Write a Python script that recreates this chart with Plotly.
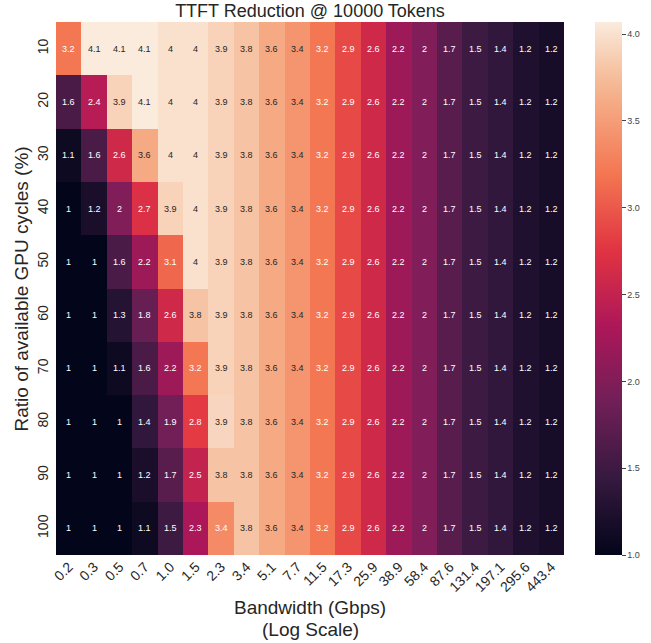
import plotly.graph_objects as go

bandwidth_labels = ["0.2", "0.3", "0.5", "0.7", "1.0", "1.5", "2.3", "3.4", "5.1", "7.7",
                    "11.5", "17.3", "25.9", "38.9", "58.4", "87.6", "131.4", "197.1", "295.6", "443.4"]
gpu_ratio_labels = ["10", "20", "30", "40", "50", "60", "70", "80", "90", "100"]

row_10 = [3.2, 4.07, 4.07, 4.07, 4.0, 4.0, 3.9, 3.8, 3.6, 3.44, 3.2, 2.9, 2.6, 2.2, 2.0, 1.7, 1.5, 1.4, 1.24, 1.18]
row_20 = [1.6, 2.4, 3.9, 4.07, 4.0, 4.0, 3.9, 3.8, 3.6, 3.44, 3.2, 2.9, 2.6, 2.2, 2.0, 1.7, 1.5, 1.4, 1.24, 1.18]
row_30 = [1.1, 1.6, 2.6, 3.6, 4.0, 4.0, 3.9, 3.8, 3.6, 3.44, 3.2, 2.9, 2.6, 2.2, 2.0, 1.7, 1.5, 1.4, 1.24, 1.18]
row_40 = [1.0, 1.2, 2.0, 2.7, 3.9, 4.0, 3.9, 3.8, 3.6, 3.44, 3.2, 2.9, 2.6, 2.2, 2.0, 1.7, 1.5, 1.4, 1.24, 1.18]
row_50 = [1.0, 1.0, 1.6, 2.2, 3.1, 4.0, 3.9, 3.8, 3.6, 3.44, 3.2, 2.9, 2.6, 2.2, 2.0, 1.7, 1.5, 1.4, 1.24, 1.18]
row_60 = [1.0, 1.0, 1.3, 1.8, 2.6, 3.8, 3.9, 3.8, 3.6, 3.44, 3.2, 2.9, 2.6, 2.2, 2.0, 1.7, 1.5, 1.4, 1.24, 1.18]
row_70 = [1.0, 1.0, 1.1, 1.6, 2.2, 3.2, 3.9, 3.8, 3.6, 3.44, 3.2, 2.9, 2.6, 2.2, 2.0, 1.7, 1.5, 1.4, 1.24, 1.18]
row_80 = [1.0, 1.0, 1.0, 1.4, 1.9, 2.8, 3.92, 3.8, 3.6, 3.44, 3.2, 2.9, 2.6, 2.2, 2.0, 1.7, 1.5, 1.4, 1.24, 1.18]
row_90 = [1.0, 1.0, 1.0, 1.2, 1.7, 2.5, 3.8, 3.8, 3.6, 3.44, 3.2, 2.9, 2.6, 2.2, 2.0, 1.7, 1.5, 1.4, 1.24, 1.18]
row_100 = [1.0, 1.0, 1.0, 1.1, 1.5, 2.3, 3.36, 3.8, 3.6, 3.44, 3.2, 2.9, 2.6, 2.2, 2.0, 1.7, 1.5, 1.4, 1.24, 1.18]

z = [row_10, row_20, row_30, row_40, row_50, row_60, row_70, row_80, row_90, row_100]

rocket = [
    [0.0, "#03051a"],
    [1 / 7, "#35193e"],
    [2 / 7, "#701f57"],
    [3 / 7, "#ad1759"],
    [4 / 7, "#e13342"],
    [5 / 7, "#f37651"],
    [0.85, "#f5ab85"],
    [0.91, "#f6c3a3"],
    [1.0, "#faebdd"],
]

FONT = "Liberation Sans, Arial, sans-serif"
TXT = "#262626"

x_idx = list(range(len(bandwidth_labels)))
y_idx = list(range(len(gpu_ratio_labels)))

fig = go.Figure(go.Heatmap(
    z=z,
    x=x_idx,
    y=y_idx,
    colorscale=rocket,
    zmin=1.0,
    zmax=4.07,
    xgap=0, ygap=0,
    hoverinfo="skip",
    colorbar=dict(
        x=1.061, xanchor="left", xpad=0, ypad=0, thickness=27, len=1.0, y=0.5, yanchor="middle",
        outlinewidth=0, ticks="outside", ticklen=4, tickwidth=1, tickcolor="#444",
        tickvals=[1.0, 1.5, 2.0, 2.5, 3.0, 3.5, 4.0],
        ticktext=["1.0", "1.5", "2.0", "2.5", "3.0", "3.5", "4.0"],
        tickfont=dict(family=FONT, size=9, color="#444"),
    ),
))

annotations = []
for yi in y_idx:
    for xi in x_idx:
        v = z[yi][xi]
        annotations.append(dict(
            x=xi, y=yi, xref="x", yref="y", text=f"{v:.2g}", showarrow=False,
            font=dict(family=FONT, size=9, color=TXT if v >= 3.4 else "#ffffff"),
        ))

# axis titles placed in paper coordinates
annotations.append(dict(text="Bandwidth (Gbps)", x=0.5, y=-0.0994, xref="paper", yref="paper",
                        xanchor="center", yanchor="middle", showarrow=False,
                        font=dict(family=FONT, size=19, color=TXT)))
annotations.append(dict(text="(Log Scale)", x=0.5, y=-0.1407, xref="paper", yref="paper",
                        xanchor="center", yanchor="middle", showarrow=False,
                        font=dict(family=FONT, size=19, color=TXT)))
annotations.append(dict(text="Ratio of available GPU cycles (%)", x=-0.067, y=0.5,
                        xref="paper", yref="paper", textangle=-90,
                        xanchor="center", yanchor="middle", showarrow=False,
                        font=dict(family=FONT, size=19, color=TXT)))

fig.update_layout(
    width=651, height=643,
    margin=dict(l=56, r=87, t=22, b=88, autoexpand=False),
    paper_bgcolor="white", plot_bgcolor="white",
    annotations=annotations,
    title=dict(text="TTFT Reduction @ 10000 Tokens", x=310 / 651, xanchor="center",
               y=1 - 11 / 643, yanchor="middle",
               font=dict(family=FONT, size=18, color=TXT)),
    xaxis=dict(
        range=[-0.5, len(bandwidth_labels) - 0.5], tickvals=x_idx, ticktext=bandwidth_labels,
        tickangle=-45, showgrid=False, zeroline=False, showline=False, automargin=False,
        ticks="", tickfont=dict(family=FONT, size=14, color=TXT),
    ),
    yaxis=dict(
        range=[len(gpu_ratio_labels) - 0.5, -0.5], tickvals=y_idx, ticktext=gpu_ratio_labels,
        tickangle=-90, showgrid=False, zeroline=False, automargin=False, ticklabelstandoff=4,
        showline=False, ticks="", tickfont=dict(family=FONT, size=14, color=TXT),
    ),
)

fig.write_html("out.html")
